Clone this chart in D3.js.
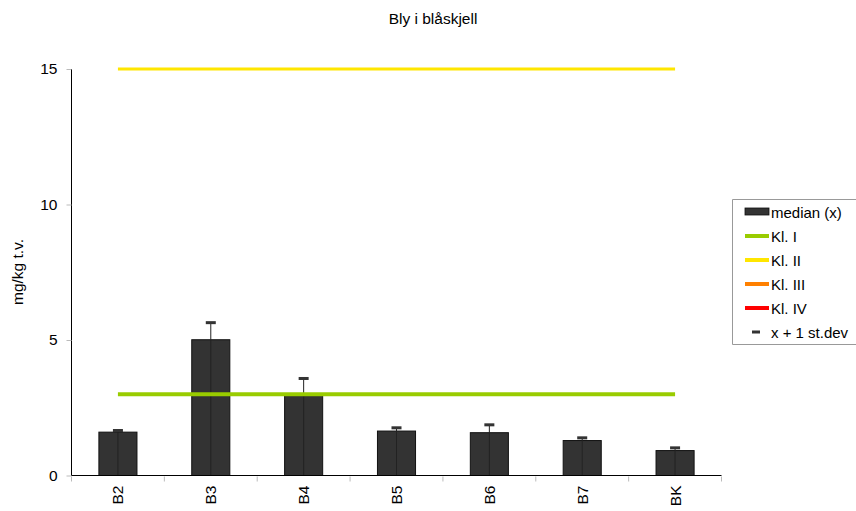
<!DOCTYPE html>
<html><head><meta charset="utf-8">
<script src="https://cdn.jsdelivr.net/npm/d3@7"></script>
<style>body{margin:0;background:#fff}svg{display:block;font-family:"Liberation Sans",Arial,sans-serif}</style>
</head><body>
<svg id="c" width="856" height="511"></svg>
<script>
const categories = ["B2","B3","B4","B5","B6","B7","BK"];
const medianValues = [1.60, 5.01, 2.95, 1.64, 1.58, 1.29, 0.92];
const plusSdValues = [1.66, 5.64, 3.58, 1.76, 1.87, 1.39, 1.02];
const classNames = ["Kl. I","Kl. II","Kl. III","Kl. IV"];
const classLimits = [3, 15, null, null];
const classColors = ["#99cc00","#ffe600","#ff8000","#ff0000"];
const yTicks = [0,5,10,15];

const svg = d3.select("#c");
const L = 71.5, R = 721.5, T = 69, B = 475.5;
const x = d3.scaleBand().domain(categories).range([L,R]).paddingInner(0).paddingOuter(0);
const y = d3.scaleLinear().domain([0,15]).range([B,T]);

svg.append("text").attr("x",433).attr("y",24).attr("text-anchor","middle")
  .attr("font-size",15.5).attr("fill","#000").text("Bly i blåskjell");

// bars
const bw = x.bandwidth()*0.41;
svg.selectAll("rect.bar").data(categories).join("rect").attr("class","bar")
  .attr("x",d=>x(d)+x.bandwidth()/2-bw/2)
  .attr("y",(d,i)=>y(medianValues[i]))
  .attr("width",bw).attr("height",(d,i)=>B-y(medianValues[i]))
  .attr("fill","#333333").attr("stroke","#111").attr("stroke-width",1);

// error bars
svg.selectAll("line.err").data(categories).join("line").attr("class","err")
  .attr("x1",d=>x(d)+x.bandwidth()/2).attr("x2",d=>x(d)+x.bandwidth()/2)
  .attr("y1",B).attr("y2",(d,i)=>y(plusSdValues[i]))
  .attr("stroke","#222").attr("stroke-width",1);
svg.selectAll("rect.cap").data(categories).join("rect").attr("class","cap")
  .attr("x",d=>x(d)+x.bandwidth()/2-5)
  .attr("y",(d,i)=>y(plusSdValues[i])-1.5)
  .attr("width",10).attr("height",3).attr("fill","#333");

// class lines
const x0 = x(categories[0])+x.bandwidth()/2, x1 = x(categories[categories.length-1])+x.bandwidth()/2;
classLimits.forEach((v,i)=>{
  if(v==null) return;
  svg.append("line").attr("x1",x0).attr("x2",x1).attr("y1",y(v)).attr("y2",y(v))
    .attr("stroke",classColors[i]).attr("stroke-width",i===0?4:3);
});

// axes
const ya = svg.append("g").attr("transform",`translate(${L},0)`)
  .call(d3.axisLeft(y).tickValues(yTicks).tickSize(5).tickPadding(9).tickFormat(d3.format("d")));
ya.select(".domain").attr("stroke","#000").attr("d",`M0,${T}V${B}`);
ya.selectAll(".tick line").attr("stroke","#bbb");
ya.selectAll(".tick text").attr("font-size",15.5).attr("fill","#000").attr("font-family","Liberation Sans, Arial, sans-serif");

const xa = svg.append("g").attr("transform",`translate(0,${B})`);
xa.append("line").attr("x1",L).attr("x2",R).attr("stroke","#000");
const bounds = categories.map(d=>x(d)).concat([R]);
xa.selectAll("line.t").data(bounds).join("line").attr("class","t")
  .attr("x1",d=>d).attr("x2",d=>d).attr("y1",1).attr("y2",6).attr("stroke","#bbb");
xa.selectAll("text").data(categories).join("text")
  .attr("transform",d=>`translate(${x(d)+x.bandwidth()/2+5.5},10) rotate(-90)`)
  .attr("text-anchor","end").attr("font-size",15.5).attr("fill","#000").text(d=>d);

svg.append("text").attr("transform","translate(23,272) rotate(-90)")
  .attr("text-anchor","middle").attr("font-size",15.5).text("mg/kg t.v.");

// legend
const lg = svg.append("g");
lg.append("path").attr("d","M860,199.5H732.5V344.5H860").attr("fill","none").attr("stroke","#999");
const rowY = d=>212+d*24;
lg.append("rect").attr("x",745).attr("y",rowY(0)-4).attr("width",24).attr("height",7).attr("fill","#333").attr("stroke","#111").attr("stroke-width",0.8);
lg.append("text").attr("x",771).attr("y",rowY(0)+5.5).attr("font-size",15).text("median (x)");
classNames.forEach((n,i)=>{
  lg.append("line").attr("x1",745).attr("x2",769).attr("y1",rowY(i+1)).attr("y2",rowY(i+1))
    .attr("stroke",classColors[i]).attr("stroke-width",4);
  lg.append("text").attr("x",771).attr("y",rowY(i+1)+5.5).attr("font-size",15).text(n);
});
lg.append("rect").attr("x",752).attr("y",rowY(5)-1.5).attr("width",8).attr("height",3).attr("fill","#333");
lg.append("text").attr("x",771).attr("y",rowY(5)+5.5).attr("font-size",15).text("x + 1 st.dev");
</script>
</body></html>
